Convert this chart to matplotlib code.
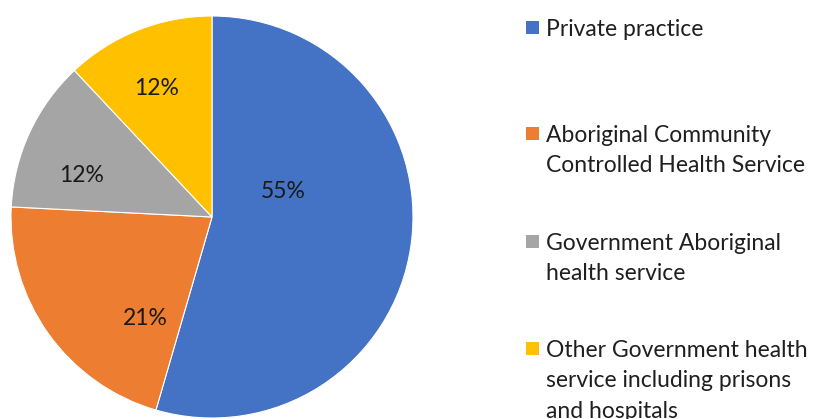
# ------------------------------------------------------------------------------
# -------------------------------------------------------------- IMPORT PACKAGES
import matplotlib
matplotlib.use('Agg')
import matplotlib.pyplot as plt
from matplotlib.patches import Rectangle

# ------------------------------------------------------------------------------
# ------------------------------------------------------------------------- DATA
categories = ['Private practice',
              'Aboriginal Community\nControlled Health Service',
              'Government Aboriginal\nhealth service',
              'Other Government health\nservice including prisons\nand hospitals']
shares = [54.5, 21.3, 12.2, 12.0]
pct_labels = ['55%', '21%', '12%', '12%']
colors = ['#4472C4', '#ED7D31', '#A5A5A5', '#FFC000']

# label placement inside slices (pie radius = 1)
label_pos = [(0.353, 0.129), (-0.333, -0.507), (-0.647, 0.204), (-0.274, 0.637)]

FONT = 'Lato'
W, H = 813, 419

# ------------------------------------------------------------------------------
# ------------------------------------------------------------------------- MAIN
fig = plt.figure(figsize=(W/100, H/100), dpi=100)
cx, cy, r = 212, 202, 201
ax = fig.add_axes([(cx-r)/W, (cy-r)/H, 2*r/W, 2*r/H])

wedges, _ = ax.pie(shares, colors=colors, startangle=90, counterclock=False,
                   radius=1.0, wedgeprops=dict(edgecolor='white', linewidth=0.8))
ax.set_xlim(-1, 1)
ax.set_ylim(-1, 1)
ax.set_aspect('equal')
ax.axis('off')

for (x, y), t in zip(label_pos, pct_labels):
	ax.text(x, y, t, ha='center', va='center', fontsize=16.5, color='#1a1a1a',
	        family=FONT)

# ---------------------------------------------------------------------- LEGEND
first_line_y = [27, 133, 241, 348]
for i in range(len(categories)):
	ypx = first_line_y[i]
	fig.patches.append(Rectangle((526/W, 1-(ypx+7)/H), 13/W, 13/H,
	                             transform=fig.transFigure,
	                             facecolor=colors[i], edgecolor='none'))
	fig.text(546/W, 1-(ypx-8)/H, categories[i], ha='left', va='top',
	         fontsize=16.5, color='#1f1f1f', family=FONT, linespacing=1.55)

fig.savefig('out.png', dpi=100, facecolor='white')
